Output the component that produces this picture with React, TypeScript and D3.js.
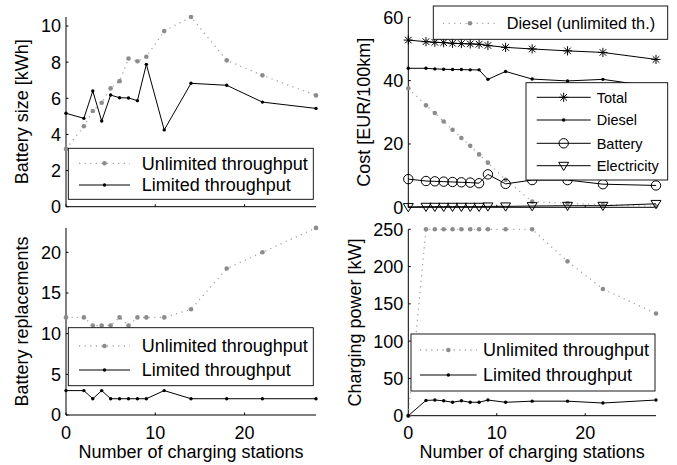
import * as d3 from 'd3';

// number of charging stations (x values shared by all panels)
const stations = [0, 2, 3, 4, 5, 6, 7, 8, 9, 11, 14, 18, 22, 28];

// battery size [kWh]
const batteryUnlimited = [3.2, 4.45, 5.3, 5.75, 6.55, 6.95, 8.2, 8.05, 8.3, 9.72, 10.5, 8.1, 7.27, 6.16];
const batteryLimited = [5.17, 4.89, 6.4, 4.74, 6.18, 6.03, 6.02, 5.87, 7.88, 4.25, 6.83, 6.72, 5.79, 5.44];

// cost [EUR/100km]
const costTotal = [52.8, 52.3, 52.1, 52.0, 51.8, 51.7, 51.6, 51.5, 51.1, 50.5, 50.0, 49.4, 48.9, 46.7];
const costDiesel = [43.9, 43.9, 43.7, 43.6, 43.5, 43.5, 43.4, 43.4, 40.4, 42.9, 40.5, 39.9, 40.4, 38.0];
const costBattery = [8.9, 8.3, 8.2, 8.1, 8.0, 7.9, 7.8, 7.6, 10.4, 7.4, 8.6, 8.6, 7.3, 6.9];
const costElectricity = [0.1, 0.2, 0.2, 0.2, 0.2, 0.2, 0.2, 0.2, 0.3, 0.3, 0.4, 0.5, 0.5, 1.1];
const costDieselUnlimited = [37.6, 32.2, 29.8, 27.1, 24.5, 21.9, 19.4, 16.7, 14.1, 8.7, 1.8, 1.3, 0.8, 0.3];

// battery replacements
const replacementsUnlimited = [12, 12, 11, 11, 11, 12, 11, 12, 12, 12, 13, 18, 20, 23];
const replacementsLimited = [3, 3, 2, 3, 2, 2, 2, 2, 2, 3, 2, 2, 2, 2];

// charging power [kW]
const powerUnlimited = [0, 250, 250, 250, 250, 250, 250, 250, 250, 250, 250, 207, 170, 137];
const powerLimited = [0, 20.5, 21, 20, 18, 20, 18, 18, 21, 18, 19.5, 19.5, 17, 21];

const xTicks = [0, 10, 20];
const FONT = "'Liberation Sans', Arial, Helvetica, sans-serif";
const GRAY = '#a3a3a3';

type MarkerKind = 'gray' | 'dot' | 'star' | 'circle' | 'tri';

function marker(kind: MarkerKind, x: number, y: number, key: string | number) {
  if (kind === 'gray') return <circle key={key} cx={x} cy={y} r={2.3} fill="#8c8c8c" />;
  if (kind === 'dot') return <circle key={key} cx={x} cy={y} r={1.7} fill="#000" />;
  if (kind === 'circle')
    return <circle key={key} cx={x} cy={y} r={4.7} fill="none" stroke="#000" strokeWidth={1} />;
  if (kind === 'tri')
    return (
      <path key={key} d={`M${x - 5},${y - 3.4}L${x + 5},${y - 3.4}L${x},${y + 4.8}Z`}
        fill="none" stroke="#000" strokeWidth={1} />
    );
  // asterisk
  const a = 4.6, b = 3.3;
  return (
    <path key={key}
      d={`M${x - a},${y}H${x + a}M${x},${y - a}V${y + a}M${x - b},${y - b}L${x + b},${y + b}M${x - b},${y + b}L${x + b},${y - b}`}
      stroke="#000" strokeWidth={1} fill="none" />
  );
}

function lineStyle(kind: MarkerKind) {
  if (kind === 'gray') return { stroke: GRAY, strokeWidth: 1.3, strokeDasharray: '1.2 4.4' };
  return { stroke: '#000', strokeWidth: 1, strokeDasharray: undefined };
}

type Series = { values: number[]; kind: MarkerKind };
type LegendSpec = {
  box: [number, number, number, number];
  rows: number[];
  line: [number, number];
  textX: number;
  fontSize: number;
  items: { label: string; kind: MarkerKind }[];
};

function Legend({ spec }: { spec: LegendSpec }) {
  const [bx, by, bw, bh] = spec.box;
  const mid = (spec.line[0] + spec.line[1]) / 2;
  return (
    <g>
      <rect x={bx} y={by} width={bw} height={bh} fill="#fff" stroke="#000" strokeWidth={0.9} />
      {spec.items.map((it, i) => {
        const y = spec.rows[i];
        const st = lineStyle(it.kind);
        return (
          <g key={i}>
            <line x1={spec.line[0]} x2={spec.line[1]} y1={y} y2={y} {...st} />
            {marker(it.kind, mid, y, 'm')}
            <text x={spec.textX} y={y + spec.fontSize * 0.36} fontSize={spec.fontSize} fill="#000">
              {it.label}
            </text>
          </g>
        );
      })}
    </g>
  );
}

type PanelProps = {
  xRange: [number, number];
  yRange: [number, number];
  yDomain: [number, number];
  yTicks: number[];
  ylabel: string;
  ylabelX: number;
  xLabels: boolean;
  series: Series[];
  legends: LegendSpec[];
};

function Panel(p: PanelProps) {
  const x = d3.scaleLinear().domain([0, 28]).range(p.xRange);
  const y = d3.scaleLinear().domain(p.yDomain).range(p.yRange);
  const [x0, x1] = p.xRange;
  const [yb, yt] = p.yRange;
  const line = d3.line<number>().x((_, i) => x(stations[i])).y((d) => y(d));
  const tl = 2.5;

  return (
    <g>
      {/* axes */}
      <line x1={x0} x2={x0} y1={yb} y2={yt} stroke="#000" strokeWidth={1} />
      <line x1={x0} x2={x1} y1={yb} y2={yb} stroke="#000" strokeWidth={1} />
      {p.yTicks.map((t) => (
        <g key={'y' + t}>
          <line x1={x0} x2={x0 + tl} y1={y(t)} y2={y(t)} stroke="#000" strokeWidth={1} />
          <text x={x0 - 5} y={y(t) + 6.4} textAnchor="end" fontSize={18} fill="#000">{t}</text>
        </g>
      ))}
      {xTicks.map((t) => (
        <g key={'x' + t}>
          <line x1={x(t)} x2={x(t)} y1={yb} y2={yb - tl} stroke="#000" strokeWidth={1} />
          {p.xLabels && (
            <text x={x(t)} y={yb + 23.5} textAnchor="middle" fontSize={18} fill="#000">{t}</text>
          )}
        </g>
      ))}
      {p.xLabels && (
        <text x={(x0 + x1) / 2} y={457.5} textAnchor="middle" fontSize={18} fill="#000">
          Number of charging stations
        </text>
      )}
      <text transform={`translate(${p.ylabelX},${(yb + yt) / 2}) rotate(-90)`} textAnchor="middle"
        fontSize={18} fill="#000">
        {p.ylabel}
      </text>

      {/* data */}
      {p.series.map((s, si) => {
        const st = lineStyle(s.kind);
        return (
          <g key={si}>
            <path d={line(s.values) || ''} fill="none" {...st} />
            {s.values.map((v, i) => marker(s.kind, x(stations[i]), y(v), i))}
          </g>
        );
      })}

      {p.legends.map((l, i) => <Legend key={i} spec={l} />)}
    </g>
  );
}

const throughputItems: { label: string; kind: MarkerKind }[] = [
  { label: 'Unlimited throughput', kind: 'gray' },
  { label: 'Limited throughput', kind: 'dot' },
];

export default function App() {
  return (
    <div style={{ position: 'absolute', left: 0, top: 0 }}>
      <svg width={677} height={465} style={{ display: 'block', background: '#fff', fontFamily: FONT }}>
        <Panel
          xRange={[66, 316]} yRange={[206.7, 17]} yDomain={[0, 10.5]} yTicks={[0, 2, 4, 6, 8, 10]}
          ylabel="Battery size [kWh]" ylabelX={28} xLabels={false}
          series={[
            { values: batteryUnlimited, kind: 'gray' },
            { values: batteryLimited, kind: 'dot' },
          ]}
          legends={[{
            box: [68.3, 148.3, 245, 51], rows: [163.3, 185], line: [79, 130], textX: 141.7,
            fontSize: 18, items: throughputItems,
          }]}
        />
        <Panel
          xRange={[408.3, 656]} yRange={[207.3, 17.3]} yDomain={[0, 60]} yTicks={[0, 20, 40, 60]}
          ylabel="Cost [EUR/100km]" ylabelX={370} xLabels={false}
          series={[
            { values: costDieselUnlimited, kind: 'gray' },
            { values: costTotal, kind: 'star' },
            { values: costDiesel, kind: 'dot' },
            { values: costBattery, kind: 'circle' },
            { values: costElectricity, kind: 'tri' },
          ]}
          legends={[
            {
              box: [433.3, 6, 234.4, 33.3], rows: [23.3], line: [443, 497], textX: 506.7,
              fontSize: 16.3, items: [{ label: 'Diesel (unlimited th.)', kind: 'gray' }],
            },
            {
              box: [526, 82.7, 141.7, 97.3], rows: [97.3, 120, 143.3, 165.7], line: [536.7, 590.7],
              textX: 596.7, fontSize: 14.5,
              items: [
                { label: 'Total', kind: 'star' },
                { label: 'Diesel', kind: 'dot' },
                { label: 'Battery', kind: 'circle' },
                { label: 'Electricity', kind: 'tri' },
              ],
            },
          ]}
        />
        <Panel
          xRange={[66, 316]} yRange={[415, 227.9]} yDomain={[0, 23]} yTicks={[0, 5, 10, 15, 20]}
          ylabel="Battery replacements" ylabelX={28} xLabels={true}
          series={[
            { values: replacementsUnlimited, kind: 'gray' },
            { values: replacementsLimited, kind: 'dot' },
          ]}
          legends={[{
            box: [68.3, 327.7, 245, 58], rows: [346, 370], line: [79, 130], textX: 141.7,
            fontSize: 18, items: throughputItems,
          }]}
        />
        <Panel
          xRange={[408.3, 656]} yRange={[415.7, 229.3]} yDomain={[0, 250]} yTicks={[0, 50, 100, 150, 200, 250]}
          ylabel="Charging power [kW]" ylabelX={361} xLabels={true}
          series={[
            { values: powerUnlimited, kind: 'gray' },
            { values: powerLimited, kind: 'dot' },
          ]}
          legends={[{
            box: [411, 334, 244, 57], rows: [350, 375], line: [420, 476.7], textX: 483,
            fontSize: 18, items: throughputItems,
          }]}
        />
      </svg>
    </div>
  );
}
